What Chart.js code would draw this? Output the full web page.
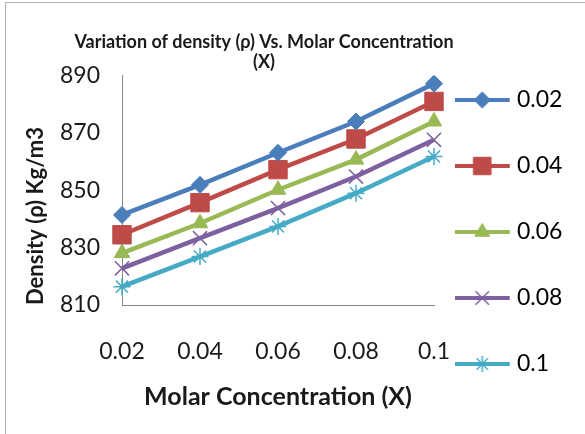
<!DOCTYPE html>
<html>
<head>
<meta charset="utf-8">
<script src="https://cdn.jsdelivr.net/npm/chart.js@4/dist/chart.umd.min.js"></script>
<style>
  html, body { margin: 0; padding: 0; background: #fff; }
  #wrap { position: relative; width: 585px; height: 434px; }
  #frame { position: absolute; left: 5px; top: 2px; right: 0; bottom: 0;
           border-left: 1px solid #b0b0b0; border-top: 1px solid #b0b0b0; pointer-events: none; }
</style>
</head>
<body>
<div id="wrap">
  <canvas id="densityChart" width="585" height="434"></canvas>
  <div id="frame"></div>
</div>
<script>
// Molar concentration (x axis) and one series per concentration
const categories = ['0.02', '0.04', '0.06', '0.08', '0.1'];
const seriesNames = ['0.02', '0.04', '0.06', '0.08', '0.1'];
const dens002 = [841.4, 851.9, 863.1, 874.0, 887.2];
const dens004 = [834.5, 845.7, 857.2, 867.9, 881.0];
const dens006 = [828.1, 838.5, 850.2, 860.7, 874.0];
const dens008 = [822.8, 833.3, 843.8, 854.8, 867.6];
const dens01 = [816.4, 826.9, 837.4, 849.0, 861.8];
const yMin = 810;
const yMax = 890;
const yStep = 20;

const seriesData = [dens002, dens004, dens006, dens008, dens01];
const colors = ['#4A7EBB', '#BE4B48', '#98B954', '#7D60A0', '#46AAC5'];
const markers = [
    { style: 'rectRot', radius: 8.5, border: 1 },
    { style: 'rect', radius: 13, border: 1 },
    { style: 'triangle', radius: 9, border: 1 },
    { style: 'crossRot', radius: 10, border: 1.5 },
    { style: 'star', radius: 8.5, border: 1.5 }
];

const FONT = 'Lato, "Open Sans", sans-serif';

// legend icon: short line with the marker, drawn in the left part of a wider
// transparent canvas so the icon sits closer to the plot than the legend padding
function makeLegendIcon(color, m) {
    const c = document.createElement('canvas');
    c.width = 73;
    c.height = 24;
    const ctx = c.getContext('2d');
    ctx.strokeStyle = color;
    ctx.lineWidth = 4;
    ctx.beginPath();
    ctx.moveTo(0, 12);
    ctx.lineTo(55, 12);
    ctx.stroke();
    ctx.fillStyle = color;
    ctx.lineWidth = m.border;
    Chart.helpers.drawPoint(ctx, { pointStyle: m.style, radius: m.radius * 0.95, rotation: 0, borderWidth: m.border }, 27.5, 12);
    return c;
}

// the original title is centred a bit left of the canvas centre
const titleShift = {
    id: 'titleShift',
    afterLayout(chart) {
        const tb = chart.titleBlock;
        if (tb) {
            tb.left = 40;
            tb.right = 488;
            tb.width = tb.right - tb.left;
        }
    }
};

const datasets = seriesData.map((d, i) => ({
    label: seriesNames[i],
    data: d,
    borderColor: colors[i],
    backgroundColor: colors[i],
    borderWidth: 4.5,
    pointStyle: markers[i].style,
    pointRadius: markers[i].radius,
    pointBorderWidth: markers[i].border,
    pointBackgroundColor: colors[i],
    pointBorderColor: colors[i],
    tension: 0
}));

const ctx = document.getElementById('densityChart').getContext('2d');
new Chart(ctx, {
    type: 'line',
    data: { labels: categories, datasets: datasets },
    plugins: [titleShift],
    options: {
        responsive: false,
        animation: false,
        layout: { padding: { left: 23, right: 14, top: 30, bottom: 0 } },
        plugins: {
            title: {
                display: true,
                text: ['Variation of density (\u03c1) Vs. Molar Concentration', '(X)'],
                color: '#1a1a1a',
                font: { family: FONT, size: 18, weight: 'bold', lineHeight: 1.1 },
                padding: { top: 2, bottom: 4 }
            },
            legend: {
                position: 'right',
                labels: {
                    usePointStyle: true,
                    pointStyleWidth: 28.5,
                    padding: 43,
                    color: '#1a1a1a',
                    font: { family: FONT, size: 23 },
                    generateLabels: function(chart) {
                        return chart.data.datasets.map((ds, i) => ({
                            text: ds.label,
                            pointStyle: makeLegendIcon(colors[i], markers[i]),
                            fillStyle: colors[i],
                            strokeStyle: colors[i],
                            lineWidth: 0,
                            hidden: false,
                            datasetIndex: i
                        }));
                    }
                }
            },
            tooltip: { enabled: false }
        },
        scales: {
            x: {
                offset: false,
                grid: { display: false, drawTicks: false },
                border: { display: true, color: '#868686', width: 1 },
                ticks: { color: '#1a1a1a', padding: 33, font: { family: FONT, size: 23 } },
                title: {
                    display: true,
                    text: 'Molar Concentration (X)',
                    color: '#1a1a1a',
                    font: { family: FONT, size: 25, weight: 'bold' },
                    padding: { top: 0, bottom: 22 }
                },
                afterFit: function(scale) { scale.height = 129; }
            },
            y: {
                min: yMin,
                max: yMax,
                grid: { display: false, drawTicks: false },
                border: { display: true, color: '#868686', width: 1 },
                ticks: { stepSize: yStep, color: '#1a1a1a', padding: 22, font: { family: FONT, size: 23 } },
                title: {
                    display: true,
                    text: 'Density (\u03c1) Kg/m3',
                    align: 'start',
                    color: '#1a1a1a',
                    font: { family: FONT, size: 22, weight: 'bold' },
                    padding: { top: 0, bottom: 13 }
                },
                afterFit: function(scale) { scale.width = 99; }
            }
        }
    }
});
</script>
</body>
</html>
